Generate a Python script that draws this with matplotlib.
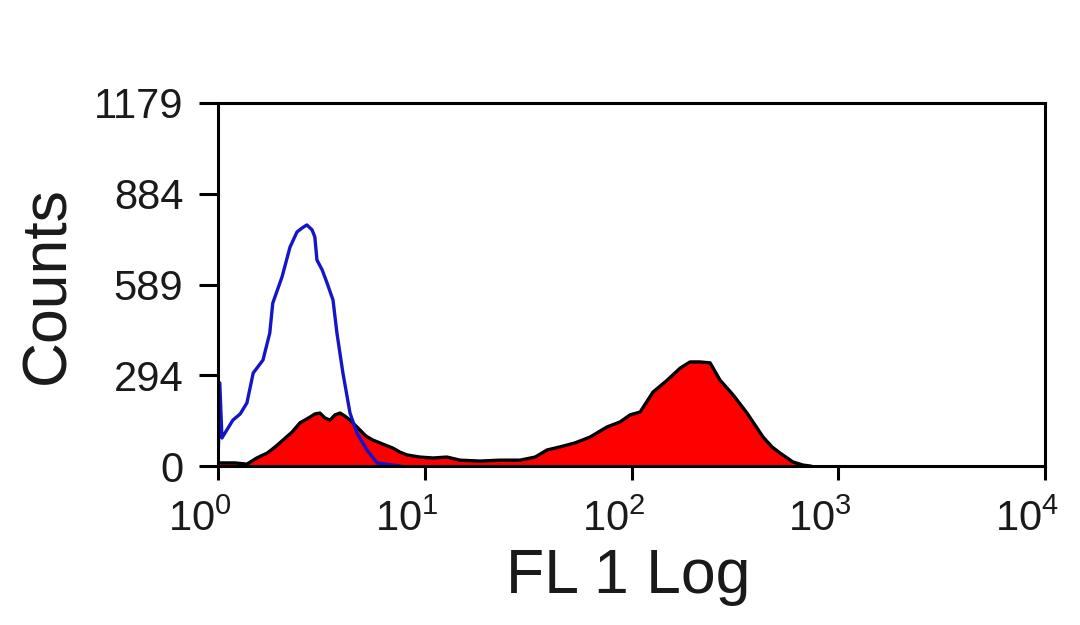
import matplotlib
matplotlib.use('Agg')
matplotlib.rcParams.update({'font.family': ['Liberation Sans', 'DejaVu Sans']})
matplotlib.rcParams.update({'mathtext.fontset': 'custom'})
matplotlib.rcParams.update({'mathtext.rm': 'Liberation Sans'})
import matplotlib.pyplot as plt
import matplotlib.transforms as mtransforms

# stained sample (red filled histogram)
red_fl = [1.02, 1.21, 1.38, 1.54, 1.73, 1.89, 2.06, 2.28, 2.49, 2.79, 2.94, 3.11,
          3.29, 3.48, 3.68, 3.89, 4.11, 4.35, 4.60, 4.86, 5.20, 5.62, 6.28, 7.02,
          7.59, 8.20, 9.49, 10.96, 12.81, 14.8, 18.5, 23.1, 28.9, 34.2, 39.0, 45.1,
          53.3, 63.0, 76.2, 88.0, 98.4, 110, 127, 149, 172, 192, 214, 240, 268,
          310, 362, 396, 433, 478, 523, 604, 676, 730]
red_counts = [10, 10, 6, 26, 42, 62, 84, 110, 140, 159, 169, 172,
              156, 149, 166, 172, 162, 149, 133, 117, 97, 84, 71, 58,
              45, 36, 29, 26, 29, 19, 16, 19, 19, 29, 52, 62,
              75, 94, 127, 143, 166, 175, 240, 279, 318, 338, 338, 335, 279,
              231, 172, 133, 94, 62, 42, 13, 3, 0]

# isotype control (blue line)
blue_fl = [1.0, 1.02, 1.045, 1.18, 1.28, 1.38, 1.48, 1.65, 1.78, 1.84, 2.04, 2.23,
           2.41, 2.55, 2.69, 2.85, 2.94, 3.01, 3.19, 3.37, 3.60, 3.76, 4.02, 4.35,
           4.70, 5.25, 5.88, 7.02, 7.59]
blue_counts = [0, 270, 91, 149, 169, 205, 302, 344, 432, 529, 614, 711,
               760, 773, 783, 767, 744, 669, 637, 594, 539, 432, 302, 172,
               107, 52, 10, 3, 0]

yticks = [0, 294, 589, 884, 1179]
xticks = [1, 10, 100, 1000, 10000]
xticklabels = [r'$\mathregular{10^{%d}}$' % i for i in range(5)]

fig = plt.figure(figsize=(10.8, 6.25), dpi=100)
ax = fig.add_axes([218 / 1080, 1 - 466 / 625, 827 / 1080, 363 / 625])

ax.fill_between(red_fl, red_counts, 0, color='#ff0000', lw=0)
ax.plot(red_fl, red_counts, color='black', lw=2.4)
ax.plot(blue_fl, blue_counts, color='#1414c8', lw=2.4)

ax.set_xscale('log')
ax.set_xlim(1, 10000)
ax.set_ylim(0, 1179)
ax.set_xticks(xticks)
ax.set_xticklabels(xticklabels)
ax.minorticks_off()
ax.set_yticks(yticks)
ax.set_yticklabels([str(v) for v in yticks])

for s in ax.spines.values():
    s.set_linewidth(2.2)
ax.tick_params(axis='y', length=14, width=2.2, pad=11, labelsize=30, labelcolor='#1a1a1a')
ax.tick_params(axis='x', length=10, width=2.2, pad=14, labelsize=30, labelcolor='#1a1a1a')

# labels sit a bit left of their ticks in the original
shift = mtransforms.ScaledTranslation(-18 / 100, 0, fig.dpi_scale_trans)
for lab in ax.get_xticklabels():
    lab.set_transform(lab.get_transform() + shift)

fig.text(48 / 1080, 1 - 285 / 625, 'Counts', rotation=90, ha='center', va='center',
         fontsize=45, color='#1a1a1a')
fig.text(628 / 1080, 1 - 593 / 625, 'FL 1 Log', ha='center', va='baseline',
         fontsize=45, color='#1a1a1a')

fig.savefig('out.png', dpi=100)
plt.close()
